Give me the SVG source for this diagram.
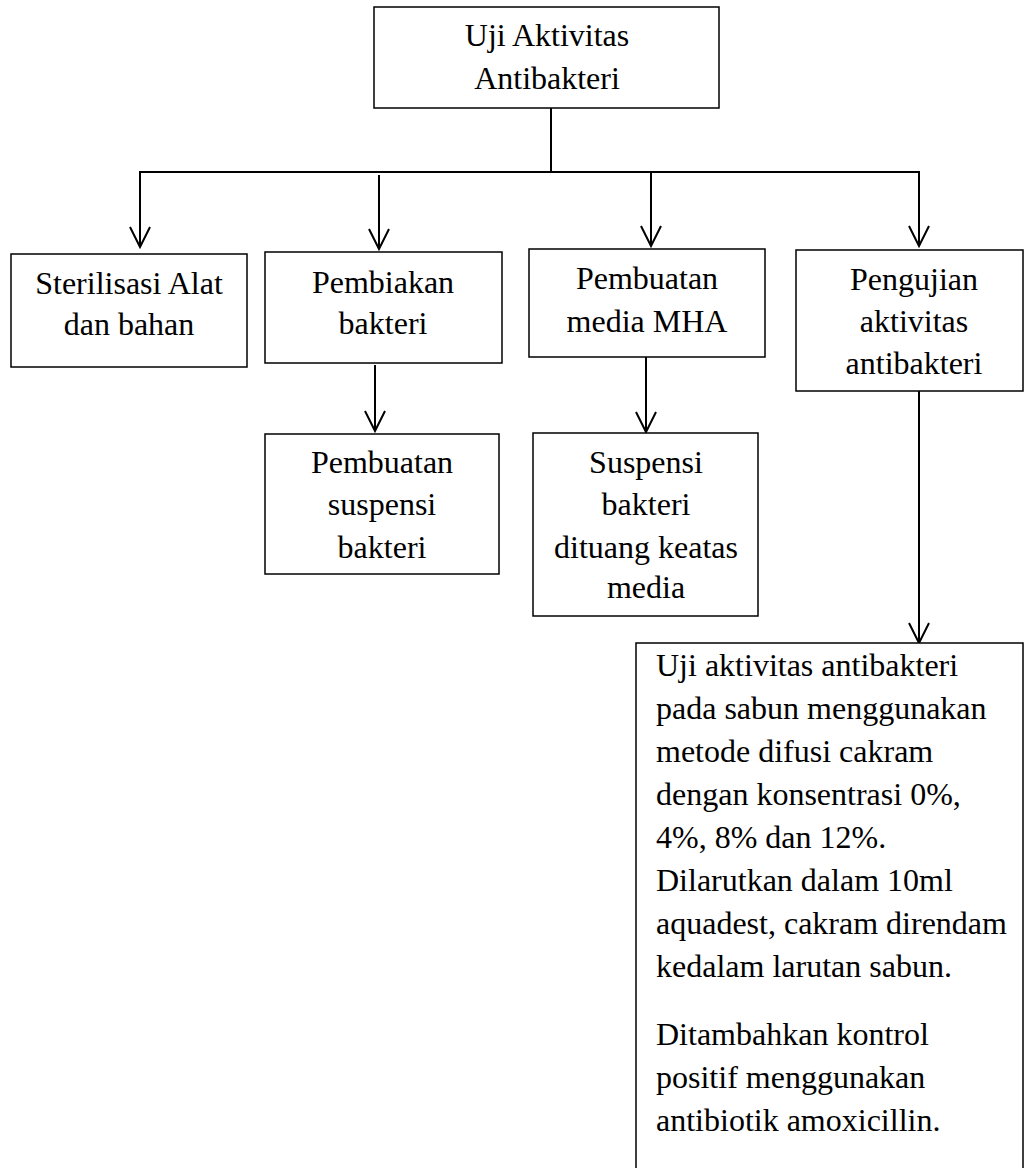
<svg xmlns="http://www.w3.org/2000/svg" width="1024" height="1168" viewBox="0 0 1024 1168">
<style>
.box{fill:#fff;stroke:#000;stroke-width:1.5}
.t{font-family:"Liberation Serif","Times New Roman",serif;font-size:32px;fill:#000}
.c{text-anchor:middle}
.ln{fill:none;stroke:#000;stroke-width:2}
</style>
<defs>
<marker id="ah" viewBox="0 0 24 24" refX="21" refY="12" markerWidth="24" markerHeight="24" markerUnits="userSpaceOnUse" orient="auto">
<path d="M1,2 L21,12 L1,22" fill="none" stroke="#000" stroke-width="2"/>
</marker>
</defs>
<rect width="1024" height="1168" fill="#fff"/>
<g id="connectors">
<line class="ln" x1="551" y1="108" x2="551" y2="172"/>
<line class="ln" x1="139" y1="172" x2="920" y2="172"/>
<path class="ln" d="M140,172 V247" marker-end="url(#ah)"/>
<path class="ln" d="M379,175 V249" marker-end="url(#ah)"/>
<path class="ln" d="M651,172 V246" marker-end="url(#ah)"/>
<path class="ln" d="M919,172 V246" marker-end="url(#ah)"/>
<path class="ln" d="M375,365 V431" marker-end="url(#ah)"/>
<path class="ln" d="M646,357 V432" marker-end="url(#ah)"/>
<path class="ln" d="M919,391 V643" marker-end="url(#ah)"/>
</g>
<g id="n-top">
<rect class="box" x="374" y="7" width="345" height="101"/>
<text class="t c" x="547" y="46">Uji Aktivitas</text>
<text class="t c" x="547" y="89">Antibakteri</text>
</g>
<g id="n-sterilisasi">
<rect class="box" x="11" y="254" width="236" height="113"/>
<text class="t c" x="129" y="294">Sterilisasi Alat</text>
<text class="t c" x="129" y="335">dan bahan</text>
</g>
<g id="n-pembiakan">
<rect class="box" x="265" y="252" width="237" height="111"/>
<text class="t c" x="383" y="293">Pembiakan</text>
<text class="t c" x="383" y="334">bakteri</text>
</g>
<g id="n-media">
<rect class="box" x="529" y="249" width="236" height="108"/>
<text class="t c" x="647" y="289">Pembuatan</text>
<text class="t c" x="647" y="332">media MHA</text>
</g>
<g id="n-pengujian">
<rect class="box" x="796" y="250" width="227" height="141"/>
<text class="t c" x="914" y="290">Pengujian</text>
<text class="t c" x="914" y="332">aktivitas</text>
<text class="t c" x="914" y="374">antibakteri</text>
</g>
<g id="n-suspensi">
<rect class="box" x="265" y="434" width="234" height="140"/>
<text class="t c" x="382" y="473">Pembuatan</text>
<text class="t c" x="382" y="515">suspensi</text>
<text class="t c" x="382" y="558">bakteri</text>
</g>
<g id="n-dituang">
<rect class="box" x="533" y="433" width="225" height="183"/>
<text class="t c" x="646" y="473">Suspensi</text>
<text class="t c" x="646" y="515">bakteri</text>
<text class="t c" x="646" y="558">dituang keatas</text>
<text class="t c" x="646" y="598">media</text>
</g>
<g id="n-uji">
<path class="box" d="M636,1170 V643 H1023 V1170"/>
<text class="t" x="656" y="676">Uji aktivitas antibakteri</text>
<text class="t" x="656" y="719">pada sabun menggunakan</text>
<text class="t" x="656" y="762">metode difusi cakram</text>
<text class="t" x="656" y="805">dengan konsentrasi 0%,</text>
<text class="t" x="656" y="848">4%, 8% dan 12%.</text>
<text class="t" x="656" y="891">Dilarutkan dalam 10ml</text>
<text class="t" x="656" y="934">aquadest, cakram direndam</text>
<text class="t" x="656" y="977">kedalam larutan sabun.</text>
<text class="t" x="656" y="1045">Ditambahkan kontrol</text>
<text class="t" x="656" y="1088">positif menggunakan</text>
<text class="t" x="656" y="1131">antibiotik amoxicillin.</text>
</g>
</svg>
